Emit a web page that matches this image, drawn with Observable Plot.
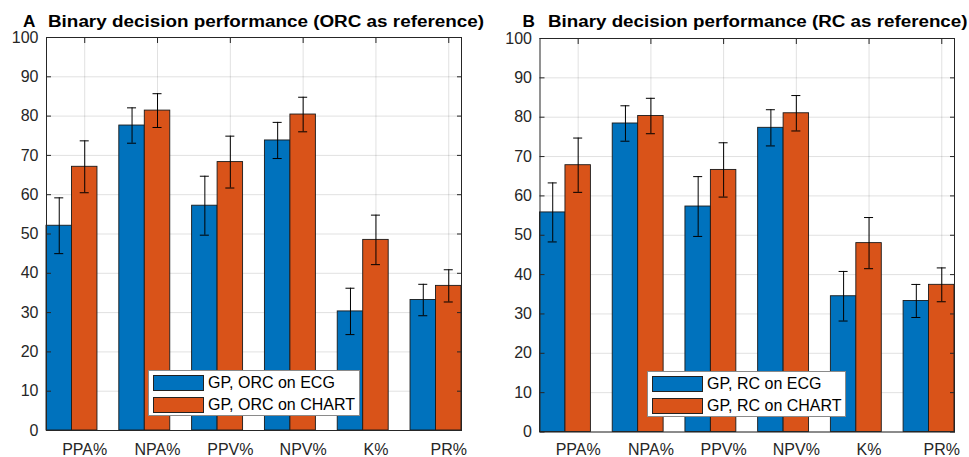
<!DOCTYPE html>
<html><head><meta charset="utf-8">
<script src="https://cdn.jsdelivr.net/npm/d3@7"></script>
<script src="https://cdn.jsdelivr.net/npm/@observablehq/plot@0.6"></script>
<style>
html,body{margin:0;padding:0;background:#fff;}
body{font-family:"Liberation Sans",Arial,Helvetica,sans-serif;}
#wrap{position:relative;width:969px;height:457px;overflow:hidden;background:#fff;}
.panel{position:absolute;top:0;}
.title{position:absolute;font-weight:bold;font-size:16.8px;line-height:17px;color:#000;white-space:nowrap;transform-origin:0 50%;}
.legend{position:absolute;background:#fff;border:1px solid #8a8a8a;box-sizing:border-box;}
.entry{position:absolute;left:4px;height:17px;display:flex;align-items:center;}
.sw{width:51px;height:16px;box-sizing:border-box;border:1px solid #222;margin-right:4px;}
.lt{font-size:16px;color:#000;white-space:nowrap;}
</style></head>
<body><div id="wrap"></div>
<script>
const categories = ["PPA%","NPA%","PPV%","NPV%","K%","PR%"];
const yTicks = [0,10,20,30,40,50,60,70,80,90,100];
const seriesA = ["GP, ORC on ECG","GP, ORC on CHART"];
const seriesB = ["GP, RC on ECG","GP, RC on CHART"];
const titleA = ["A","Binary decision performance (ORC as reference)"];
const titleB = ["B","Binary decision performance (RC as reference)"];
const ecgA = [52.1,77.6,57.2,73.8,30.3,33.2];
const ecgAerr = [7.1,4.5,7.5,4.6,5.9,4.0];
const chartA = [67.1,81.4,68.3,80.4,48.5,36.8];
const chartAerr = [6.6,4.3,6.6,4.4,6.3,4.1];
const ecgB = [55.8,78.4,57.3,77.3,34.5,33.3];
const ecgBerr = [7.5,4.5,7.6,4.6,6.3,4.2];
const chartB = [67.8,80.3,66.6,81.0,48.0,37.4];
const chartBerr = [6.9,4.5,6.9,4.5,6.5,4.3];
const colors = ["#0072BD","#D95319"];

const BAR = 0.35, CAP = 0.062;
const xTicks = categories.map((c,i)=>i+1);
const wrap = document.getElementById("wrap");

function panel(vals, errs, series, title, m) {
  const rows = [];
  vals.forEach((arr, s) => arr.forEach((v, i) => rows.push({pos: i+1, s, name: series[s], v, e: errs[s][i]})));
  const center = d => d.pos - BAR*(1 - d.s);
  const chart = Plot.plot({
    width: m.width, height: 457,
    marginLeft: m.l, marginRight: m.r, marginTop: m.t, marginBottom: m.b,
    style: {fontFamily: '"Liberation Sans", Arial, sans-serif', fontSize: "16px", color: "#262626", background: "transparent", overflow: "visible"},
    x: {domain: [1 - 1.5*BAR, categories.length + BAR/2]},
    y: {domain: [0, 100]},
    color: {domain: series, range: colors},
    marks: [
      Plot.gridX(xTicks, {stroke: "#000", strokeOpacity: 0.12}),
      Plot.gridY(yTicks, {stroke: "#000", strokeOpacity: 0.12}),
      Plot.rect(rows, {x1: d => center(d) - BAR/2, x2: d => center(d) + BAR/2, y1: 0, y2: "v", fill: "name", stroke: "#1a1a1a", strokeWidth: 0.9}),
      Plot.ruleX(rows, {x: center, y1: d => d.v - d.e, y2: d => d.v + d.e, stroke: "#000", strokeWidth: 1}),
      Plot.ruleY(rows, {y: d => d.v + d.e, x1: d => center(d) - CAP, x2: d => center(d) + CAP, stroke: "#000", strokeWidth: 1}),
      Plot.ruleY(rows, {y: d => d.v - d.e, x1: d => center(d) - CAP, x2: d => center(d) + CAP, stroke: "#000", strokeWidth: 1}),
      Plot.frame({stroke: "#262626", strokeWidth: 1}),
      Plot.axisX({ticks: xTicks, tickFormat: i => categories[i-1], tickSize: 0, tickPadding: m.xpad, label: null, fill: "#262626"}),
      Plot.axisY({ticks: yTicks, tickSize: 0, tickPadding: 8, label: null, fill: "#262626"}),
      Plot.axisX({anchor: "top", ticks: xTicks, tickSize: -5, tickFormat: () => "", label: null, stroke: "#262626"}),
      Plot.axisY({anchor: "right", ticks: yTicks, tickSize: -5, tickFormat: () => "", label: null, stroke: "#262626"}),
      Plot.axisY({anchor: "left", ticks: yTicks, tickSize: -5, tickFormat: () => "", label: null, stroke: "#262626"})
    ]
  });
  const div = document.createElement("div");
  div.className = "panel";
  div.style.left = m.x + "px";
  div.appendChild(chart);
  wrap.appendChild(div);

  const t1 = document.createElement("div");
  t1.className = "title"; t1.textContent = title[0];
  t1.style.left = m.tx0 + "px"; t1.style.top = "12.5px"; t1.style.fontSize = "17.2px";
  wrap.appendChild(t1);
  const t2 = document.createElement("div");
  t2.className = "title"; t2.textContent = title[1];
  t2.style.left = m.tx1 + "px"; t2.style.top = "12.5px";
  wrap.appendChild(t2);
  const w = t2.getBoundingClientRect().width;
  if (w > 0) t2.style.transform = `scaleX(${m.tw / w})`;

  const lg = document.createElement("div");
  lg.className = "legend";
  lg.style.left = m.lx + "px"; lg.style.top = m.ly + "px";
  lg.style.width = m.lw + "px"; lg.style.height = "46px";
  series.forEach((s, k) => {
    const e = document.createElement("div");
    e.className = "entry";
    e.style.top = (3 + k*22) + "px";
    e.innerHTML = `<div class="sw" style="background:${colors[k]}"></div><span class="lt">${s}</span>`;
    lg.appendChild(e);
  });
  wrap.appendChild(lg);
}

panel([ecgA, chartA], [ecgAerr, chartAerr], seriesA, titleA,
  {x: 0, width: 485, l: 46, r: 24, t: 37, b: 27, xpad: 13, tx0: 23, tx1: 47.5, tw: 436, lx: 148, ly: 370, lw: 212});
panel([ecgB, chartB], [ecgBerr, chartBerr], seriesB, titleB,
  {x: 485, width: 484, l: 54.5, r: 15, t: 38, b: 25.5, xpad: 11.5, tx0: 522.5, tx1: 547.5, tw: 419.5, lx: 647, ly: 371, lw: 199});
</script></body></html>
